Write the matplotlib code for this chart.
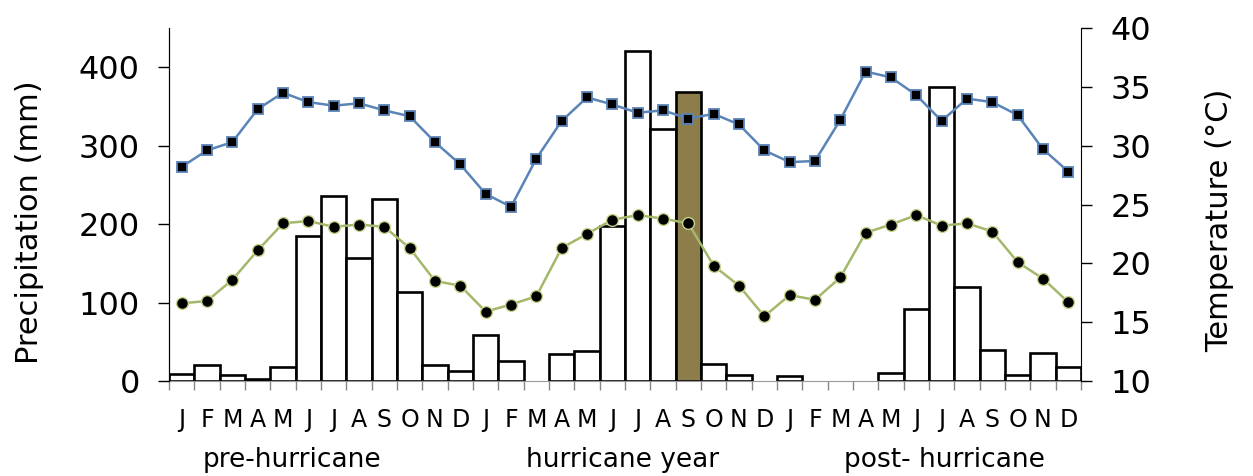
import numpy as np
import matplotlib
matplotlib.use('Agg')
import matplotlib.pyplot as plt

# monthly data, three years: pre-hurricane, hurricane year, post-hurricane
months = list('JFMAMJJASOND') * 3
precip = [9, 20, 8, 3, 18, 185, 236, 157, 232, 114, 20, 13,
          59, 25, 0, 35, 38, 198, 421, 321, 369, 22, 8, 0,
          7, 0, 0, 0, 10, 92, 375, 120, 39, 8, 36, 18]
tmax = [28.2, 29.6, 30.3, 33.1, 34.5, 33.7, 33.4, 33.6, 33.0, 32.5, 30.3, 28.4,
        25.9, 24.8, 28.9, 32.1, 34.1, 33.5, 32.8, 33.0, 32.3, 32.7, 31.8, 29.6,
        28.6, 28.7, 32.2, 36.3, 35.8, 34.3, 32.1, 34.0, 33.7, 32.6, 29.7, 27.8]
tmin = [16.6, 16.8, 18.6, 21.1, 23.4, 23.6, 23.1, 23.3, 23.1, 21.3, 18.5, 18.1,
        15.9, 16.5, 17.2, 21.3, 22.5, 23.7, 24.1, 23.8, 23.4, 19.8, 18.1, 15.5,
        17.3, 16.9, 18.8, 22.6, 23.3, 24.1, 23.2, 23.4, 22.7, 20.1, 18.7, 16.7]
hurricane_month = 20
periods = ['pre-hurricane', 'hurricane year', 'post- hurricane']
period_x = [4.34, 17.39, 30.11]

plt.rcParams['font.family'] = 'DejaVu Sans'

fig = plt.figure(figsize=(12.53, 4.76), dpi=100)
ax1 = fig.add_axes([169/1253, 1-381/476, 912/1253, 353/476])
ax2 = ax1.twinx()

x = np.arange(len(precip))
colors = ['white'] * len(precip)
colors[hurricane_month] = '#8c7d4b'
bars = ax1.bar(x, precip, width=1.0, color=colors, edgecolor='black', linewidth=1.9, zorder=2)
for b, v in zip(bars, precip):
    if v == 0:
        b.set_visible(False)

ax2.plot(x, tmax, color='#5a84b8', lw=1.8, marker='s', ms=7.5, mfc='black',
         mec='#5a84b8', mew=1.3)
ax2.plot(x, tmin, color='#a3b86a', lw=1.8, marker='o', ms=8.5, mfc='black',
         mec='#c4d48a', mew=1.0)

ax1.set_xlim(-0.5, 35.5)
ax1.set_ylim(0, 450)
ax2.set_ylim(10, 40)
ax1.set_yticks([0, 100, 200, 300, 400])
ax2.set_yticks([10, 15, 20, 25, 30, 35, 40])

ax1.set_xticks(x)
ax1.set_xticklabels(months, fontsize=17)
ax1.set_xticks(np.arange(-0.5, 36, 1), minor=True)
ax1.tick_params(axis='x', which='major', length=0, pad=19.5)
ax1.tick_params(axis='x', which='minor', length=6.5, color='#888888', width=1)
ax1.tick_params(axis='y', length=8, width=1, labelsize=23, pad=13)
ax2.tick_params(axis='y', length=8, width=1, labelsize=23, pad=13)

for ax in (ax1, ax2):
    ax.spines['top'].set_visible(False)
ax1.spines['bottom'].set_color('#999999')
ax2.spines['bottom'].set_visible(False)
ax1.spines['right'].set_visible(False)

ax1.set_ylabel('Precipitation (mm)', fontsize=22, va='center', ha='center')
ax1.yaxis.set_label_coords(-0.1535, 0.45)
ax2.set_ylabel('Temperature (°C)', fontsize=22, va='center', ha='center', rotation=90)
ax2.yaxis.set_label_coords(1.1524, 0.455)

for name, px in zip(periods, period_x):
    ax1.text(px, -0.2436, name, transform=ax1.get_xaxis_transform(),
             ha='center', va='baseline', fontsize=19)

fig.savefig('out.png', dpi=100)
